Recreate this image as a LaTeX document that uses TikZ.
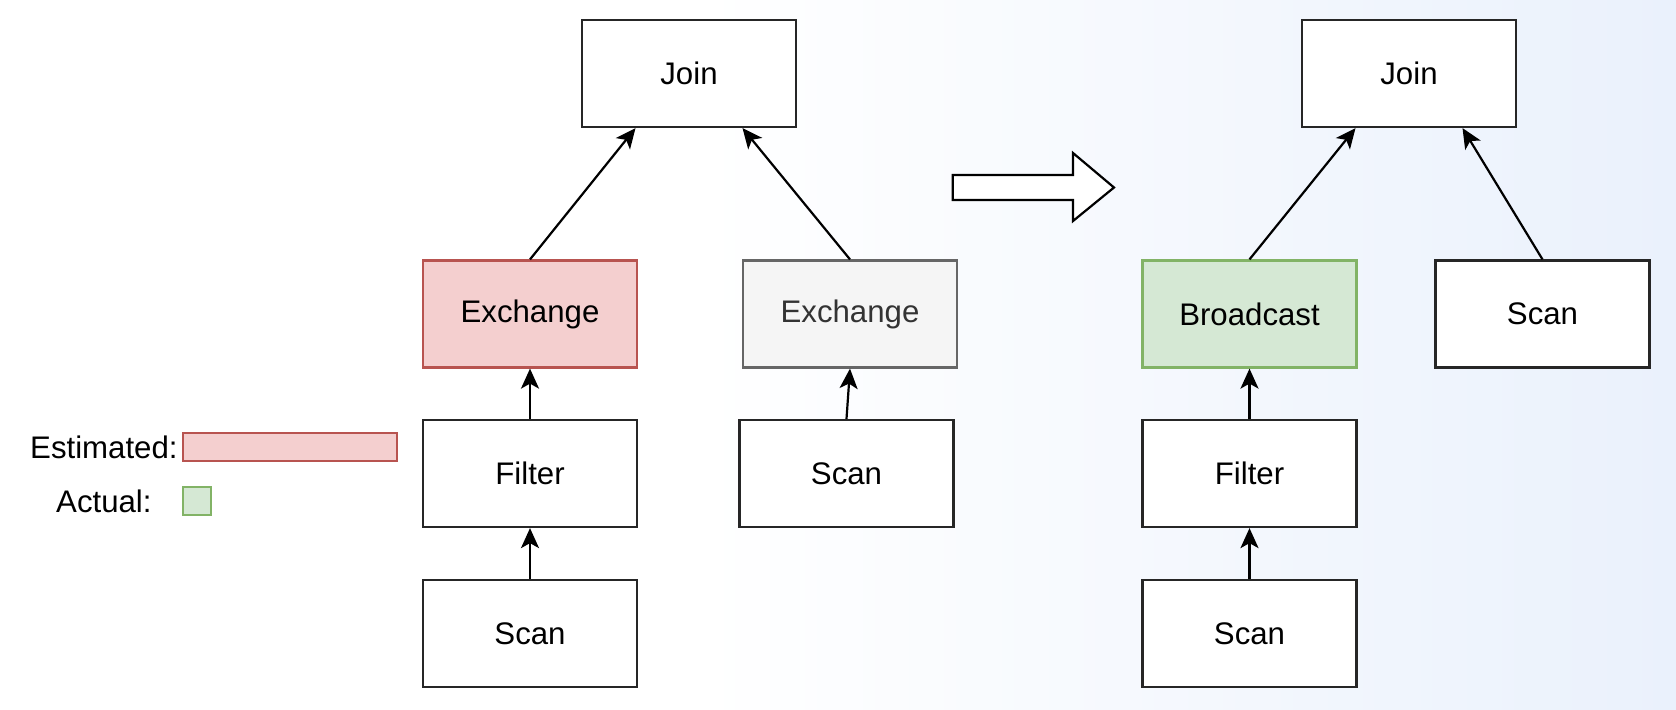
\documentclass[tikz,border=0pt]{standalone}
\usepackage{fontspec}
\setmainfont{Liberation Sans}
\usetikzlibrary{arrows.meta}
\definecolor{estfill}{HTML}{F4CFCF}
\definecolor{estline}{HTML}{B85450}
\definecolor{actfill}{HTML}{D5E8D4}
\definecolor{actline}{HTML}{82B366}
\definecolor{offfill}{HTML}{F5F5F5}
\definecolor{offline}{HTML}{666666}
\definecolor{offtext}{HTML}{333333}
\definecolor{bgblue}{HTML}{EAF1FC}
\begin{document}
\begin{tikzpicture}[x=0.5pt,y=-0.5pt,
   op/.style={draw=black!85,line width=1.1pt,fill=white,minimum width=107pt,
      minimum height=53.5pt,inner sep=0pt,font=\fontsize{15.6}{18}\selectfont},
   est/.style={op,fill=estfill,draw=estline},
   act/.style={op,fill=actfill,draw=actline},
   off/.style={op,fill=offfill,draw=offline,text=offtext},
   flow/.style={-{Stealth[length=10pt,width=9pt,inset=2.5pt]},line width=1.1pt},
   lbl/.style={anchor=east,inner sep=0pt,font=\fontsize{15.6}{18}\selectfont}]
\fill[white] (0,0) rectangle (1676,709);
\shade[left color=white,right color=bgblue] (700,0) rectangle (1676,709);
% plan before
\node[op]  (joinL)   at (689,73.5)  {Join};
\node[est] (exchL)   at (530,314)   {Exchange};
\node[off] (exchR)   at (850,314)   {Exchange};
\node[op]  (filterL) at (530,473.5) {Filter};
\node[op]  (scanL)   at (530,633.5) {Scan};
\node[op]  (scanLR)  at (846.5,473.5) {Scan};
\draw[flow] (exchL.north) -- ([xshift=-26.75pt]joinL.south);
\draw[flow] (exchR.north) -- ([xshift=26.75pt]joinL.south);
\draw[flow] (filterL) -- (exchL);
\draw[flow] (scanL) -- (filterL);
\draw[flow] (scanLR.north) -- (exchR.south);
% rewrite
\draw[line width=1.1pt,fill=white] (952.7,175) -- (1073,175) -- (1073,153) -- (1114,187.5)
   -- (1073,221) -- (1073,200) -- (952.7,200) -- cycle;
% plan after
\node[op]  (joinR)   at (1409,73.5)   {Join};
\node[act] (bcast)   at (1249.5,314)  {Broadcast};
\node[op]  (scanRR)  at (1542.5,314)  {Scan};
\node[op]  (filterR) at (1249.5,473.5) {Filter};
\node[op]  (scanR)   at (1249.5,633.5) {Scan};
\draw[flow] (bcast.north) -- ([xshift=-26.75pt]joinR.south);
\draw[flow] (scanRR.north) -- ([xshift=26.75pt]joinR.south);
\draw[flow] (filterR) -- (bcast);
\draw[flow] (scanR) -- (filterR);
% legend
\node[est,minimum width=107pt,minimum height=14pt] (estbar) at (290,447) {};
\node[act,minimum width=14pt,minimum height=14pt] (actbox) at (197,501) {};
\node[lbl] (estlbl) at (178,447) {Estimated:};
\node[lbl] (actlbl) at (152,501) {Actual:};
\end{tikzpicture}
\end{document}
